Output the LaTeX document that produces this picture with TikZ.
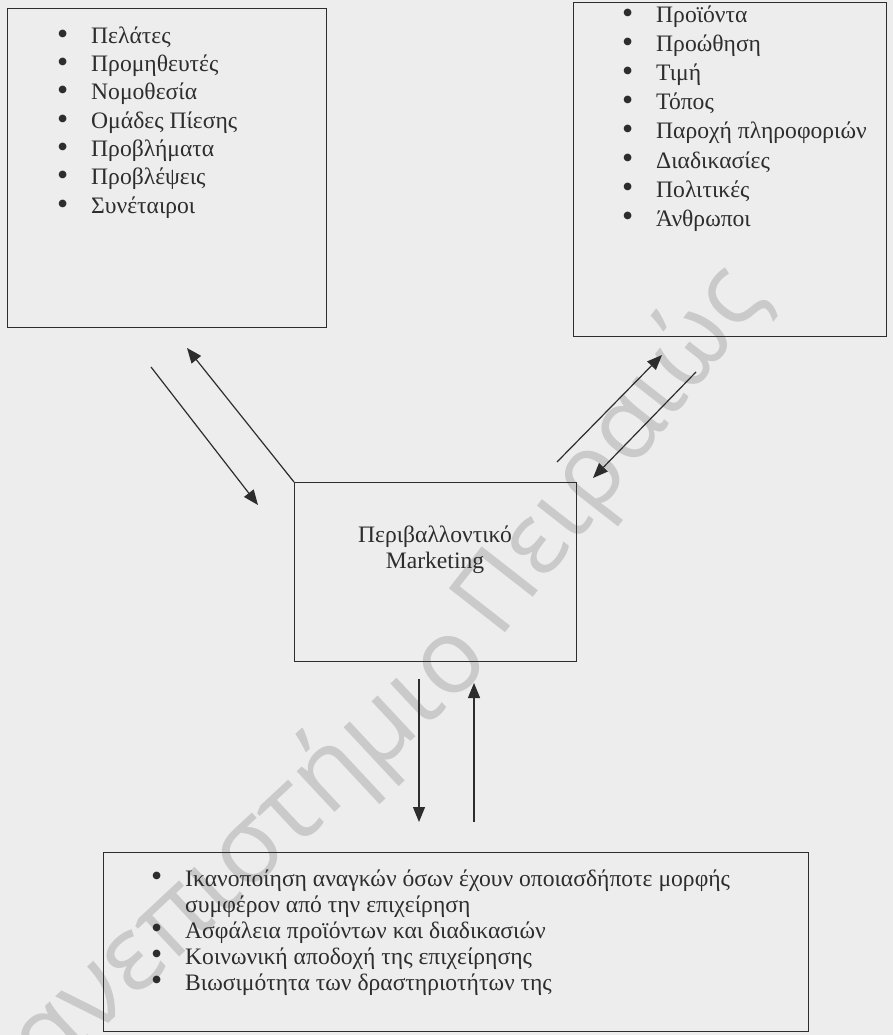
\documentclass[tikz,border=0pt]{standalone}
\usepackage{fontspec}
\setmainfont{Liberation Serif}
\newfontfamily\wmfont{Open Sans}
\usetikzlibrary{arrows.meta}
\definecolor{paper}{RGB}{237,237,237}
\definecolor{ink}{RGB}{45,45,45}
\definecolor{wmgray}{RGB}{202,202,202}
\newcommand{\bul}[1]{\makebox[34pt][l]{\raisebox{-0.9pt}{\scalebox{1.35}{•}}}#1}
\newcommand{\nobul}[1]{\makebox[34pt][l]{}#1}

\begin{document}
\begin{tikzpicture}[x=1pt,y=-1pt,
  frame/.style={draw=ink, line width=1.2pt, inner sep=0pt, anchor=north west},
  item/.style={anchor=base west, inner sep=0pt, text=ink, font=\fontsize{23.6}{28}\selectfont},
  label/.style={anchor=base, inner sep=0pt, text=ink, font=\fontsize{23.6}{28}\selectfont},
  flow/.style={draw=ink, line width=1.2pt, -{Triangle[length=15pt,width=12pt]}},
  wmark/.style={text=wmgray, inner sep=0pt, font=\wmfont\fontsize{100}{100}\selectfont},
]
% paper
\fill[paper] (0,0) rectangle (893,1035);
\useasboundingbox (0,0) rectangle (893,1035);

% watermark, in two strokes
\node[wmark, rotate=43, anchor=base east, font=\wmfont\fontsize{104}{104}\selectfont]
  (wm-1) at (494,664) {Πανεπιστήμιο};
\node[wmark, rotate=52, anchor=base east] (wm-2) at (768,297) {Πειραιώς};

% boxes
\node[frame, minimum width=319pt, minimum height=319pt] (env) at (7,8) {};
\node[frame, minimum width=313pt, minimum height=334pt] (mix) at (573,2) {};
\node[frame, minimum width=282pt, minimum height=179pt] (mk) at (294,482) {};
\node[frame, minimum width=705pt, minimum height=179pt] (goal) at (103,852) {};

% external environment list
\foreach \t [count=\i from 0] in {Πελάτες, Προμηθευτές, Νομοθεσία, Ομάδες Πίεσης,
    Προβλήματα, Προβλέψεις, Συνέταιροι}
  \node[item] (env-\i) at (57,{43.3+28.3*\i}) {\bul{\t}};

% marketing mix list
\foreach \t [count=\i from 0] in {Προϊόντα, Προώθηση, Τιμή, Τόπος,
    Παροχή πληροφοριών, Διαδικασίες, Πολιτικές, Άνθρωποι}
  \node[item] (mix-\i) at (622,{23+29*\i}) {\bul{\t}};

% central label
\node[label] (mk-1) at (435,542) {Περιβαλλοντικό};
\node[label] (mk-2) at (435,568) {Marketing};

% goals list
\node[item] (goal-0) at (151,886) {\bul{Ικανοποίηση αναγκών όσων έχουν οποιασδήποτε μορφής}};
\node[item] (goal-1) at (151,912) {\nobul{συμφέρον από την επιχείρηση}};
\node[item] (goal-2) at (151,938) {\bul{Ασφάλεια προϊόντων και διαδικασιών}};
\node[item] (goal-3) at (151,964) {\bul{Κοινωνική αποδοχή της επιχείρησης}};
\node[item] (goal-4) at (151,990) {\bul{Βιωσιμότητα των δραστηριοτήτων της}};

% arrow end points
\coordinate (a1s) at (151,367);  \coordinate (a1e) at (258,505);
\coordinate (a2e) at (187,348);
\coordinate (b1s) at (557,462);  \coordinate (b1e) at (662,355);
\coordinate (b2s) at (696,372);  \coordinate (b2e) at (593,478);
\coordinate (c1s) at (419,679);  \coordinate (c1e) at (419,822);
\coordinate (c2s) at (474,822);  \coordinate (c2e) at (474,683);

% flows between the boxes
\draw[flow] (a1s) -- (a1e);
\draw[flow] (mk.north west) -- (a2e);
\draw[flow] (b1s) -- (b1e);
\draw[flow] (b2s) -- (b2e);
\draw[flow] (c1s) -- (c1e);
\draw[flow] (c2s) -- (c2e);
\end{tikzpicture}
\end{document}
